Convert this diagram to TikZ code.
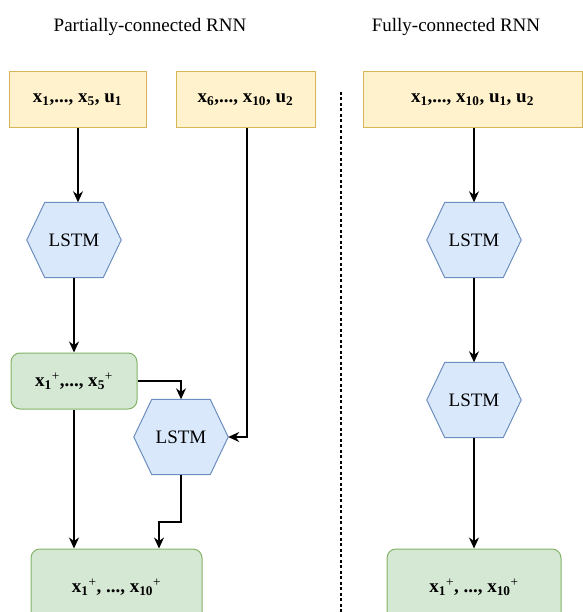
\documentclass[tikz,border=0pt]{standalone}
\usepackage{fontspec}
\setmainfont{Liberation Serif}
\usetikzlibrary{arrows.meta,backgrounds}
\definecolor{gelbRand}{HTML}{D6B656}
\definecolor{gelbFill}{HTML}{FFF2CC}
\definecolor{blauRand}{HTML}{6C8EBF}
\definecolor{blauFill}{HTML}{DAE8FC}
\definecolor{gruenRand}{HTML}{82B366}
\definecolor{gruenFill}{HTML}{D5E8D4}
\newcommand{\plus}{\textsuperscript{\mdseries +}}

\begin{document}
\begin{tikzpicture}[x=1pt,y=-1pt,font=\fontsize{19}{22}\selectfont,
  eingabe/.style={draw=gelbRand,fill=gelbFill,line width=1pt,minimum height=56pt,
    inner sep=0pt,font=\fontsize{19}{22}\selectfont\bfseries},
  ausgabe/.style={draw=gruenRand,fill=gruenFill,line width=1pt,rounded corners=9pt,
    inner sep=0pt,font=\fontsize{19}{22}\selectfont\bfseries},
  lstm/.style={minimum width=94pt,minimum height=75pt,inner sep=0pt},
  pfeil/.style={line width=1.5pt,-{Stealth[length=11pt,width=10pt]}}]
  \useasboundingbox (0,0) rectangle (582,612);
  % Titel
  \node (titelP) at (150,27) {Partially-connected RNN};
  \node (titelF) at (456,27) {Fully-connected RNN};
  % Trennlinie
  \draw[line width=1.5pt,dash pattern=on 3pt off 2.5pt] (341,92) -- (341,614);
  % Eingaben
  \node[eingabe,minimum width=137pt] (einA) at (77.5,100)
    {x\textsubscript{1},..., x\textsubscript{5}, u\textsubscript{1}};
  \node[eingabe,minimum width=139pt] (einB) at (245.5,100)
    {x\textsubscript{6},..., x\textsubscript{10}, u\textsubscript{2}};
  \node[eingabe,minimum width=219pt] (einC) at (472.5,100)
    {x\textsubscript{1},..., x\textsubscript{10}, u\textsubscript{1}, u\textsubscript{2}};
  % LSTM-Zellen
  \node[lstm] (l1) at (74,240) {LSTM};
  \node[lstm] (l2) at (181,437) {LSTM};
  \node[lstm] (l3) at (474,240) {LSTM};
  \node[lstm] (l4) at (474,400) {LSTM};
  \begin{scope}[on background layer]
    \foreach \n in {l1,l2,l3,l4}
      \draw[draw=blauRand,fill=blauFill,line width=1pt]
        (\n.west) -- ([xshift=18pt]\n.north west) -- ([xshift=-18pt]\n.north east)
        -- (\n.east) -- ([xshift=-18pt]\n.south east) -- ([xshift=18pt]\n.south west)
        -- cycle;
  \end{scope}
  % Ausgaben
  \node[ausgabe,minimum width=126pt,minimum height=56pt] (g1) at (74,381)
    {x\textsubscript{1}\plus,..., x\textsubscript{5}\plus};
  \node[ausgabe,minimum width=171pt,minimum height=76pt] (g2) at (116.5,587)
    {x\textsubscript{1}\plus, ..., x\textsubscript{10}\plus};
  \node[ausgabe,minimum width=174pt,minimum height=76pt] (g3) at (474,587)
    {x\textsubscript{1}\plus, ..., x\textsubscript{10}\plus};
  % Pfeile links
  \draw[pfeil] ([xshift=0.5pt]einA.south) -- ([xshift=0.5pt]einA.south |- l1.north);
  \draw[pfeil] (l1.south) -- (g1.north);
  \draw[pfeil] (g1.east) -| (l2.north);
  \draw[pfeil] ([xshift=1.5pt]einB.south) |- (l2.east);
  \coordinate (knick) at (159,522);
  \draw[pfeil] (l2.south) |- (knick) -- (knick |- g2.north);
  \draw[pfeil] (g1.south) -- (g1.south |- g2.north);
  % Pfeile rechts
  \draw[pfeil] (l3.north |- einC.south) -- (l3.north);
  \draw[pfeil] (l3.south) -- (l4.north);
  \draw[pfeil] (l4.south) -- (g3.north);
\end{tikzpicture}
\end{document}
